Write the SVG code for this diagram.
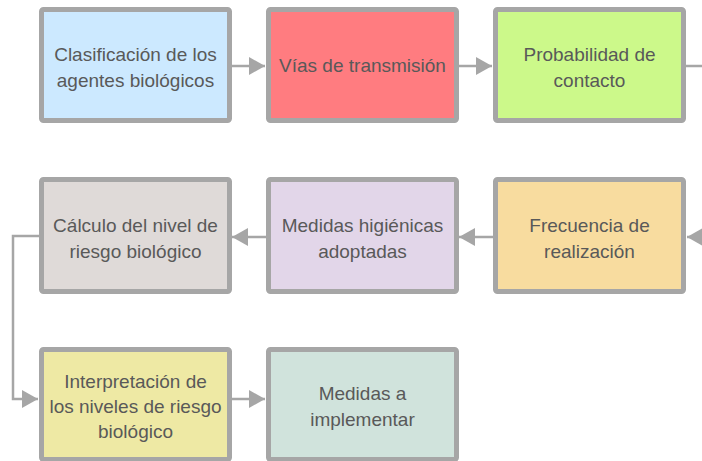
<svg xmlns="http://www.w3.org/2000/svg" width="702" height="461" viewBox="0 0 702 461">
<style>
.box{stroke:#a6a6a6;stroke-width:5;}
.t{font-family:"Liberation Sans",Arial,sans-serif;font-size:19px;fill:#595959;text-anchor:middle;}
.c{fill:none;stroke:#a6a6a6;stroke-width:2.5;}
.ah{fill:#a6a6a6;}
</style>
<defs>
<marker id="arr" markerUnits="userSpaceOnUse" markerWidth="16" markerHeight="18" refX="16" refY="9" orient="auto">
<path d="M0,0 L16,9 L0,18 Z" class="ah"/>
</marker>
</defs>
<rect width="702" height="461" fill="#ffffff"/>
<g id="connectors">
<path class="c" d="M231,66 H265" marker-end="url(#arr)"/>
<path class="c" d="M458,66 H492" marker-end="url(#arr)"/>
<path class="c" d="M686,66 H702"/>
<path class="c" d="M702,237 H687" marker-end="url(#arr)"/>
<path class="c" d="M493,237 H459" marker-end="url(#arr)"/>
<path class="c" d="M266,237 H232" marker-end="url(#arr)"/>
<path class="c" d="M39,236 H13 V399 H38" marker-end="url(#arr)"/>
<path class="c" d="M231,399 H265" marker-end="url(#arr)"/>
</g>
<g id="n1">
<rect class="box" x="41.5" y="9.5" width="188" height="111" rx="2" fill="#cce9ff"/>
<text class="t" x="135.5" y="61">Clasificación de los</text>
<text class="t" x="135.5" y="87">agentes biológicos</text>
</g>
<g id="n2">
<rect class="box" x="268.5" y="9.5" width="188" height="111" rx="2" fill="#ff7c80"/>
<text class="t" x="362.5" y="72">Vías de transmisión</text>
</g>
<g id="n3">
<rect class="box" x="495.5" y="9.5" width="188" height="111" rx="2" fill="#ccf98a"/>
<text class="t" x="589.5" y="61">Probabilidad de</text>
<text class="t" x="589.5" y="87">contacto</text>
</g>
<g id="n4">
<rect class="box" x="41.5" y="179.5" width="188" height="112" rx="2" fill="#dfdad8"/>
<text class="t" x="135.5" y="232">Cálculo del nivel de</text>
<text class="t" x="135.5" y="258">riesgo biológico</text>
</g>
<g id="n5">
<rect class="box" x="268.5" y="179.5" width="188" height="112" rx="2" fill="#e2d6e9"/>
<text class="t" x="362.5" y="232">Medidas higiénicas</text>
<text class="t" x="362.5" y="258">adoptadas</text>
</g>
<g id="n6">
<rect class="box" x="495.5" y="179.5" width="188" height="112" rx="2" fill="#f8dc9f"/>
<text class="t" x="589.5" y="232">Frecuencia de</text>
<text class="t" x="589.5" y="258">realización</text>
</g>
<g id="n7">
<rect class="box" x="41.5" y="349.5" width="188" height="110" rx="2" fill="#eee9a4"/>
<text class="t" x="135.5" y="388">Interpretación de</text>
<text class="t" x="135.5" y="413">los niveles de riesgo</text>
<text class="t" x="135.5" y="438">biológico</text>
</g>
<g id="n8">
<rect class="box" x="268.5" y="349.5" width="188" height="110" rx="2" fill="#d0e3dc"/>
<text class="t" x="362.5" y="400">Medidas a</text>
<text class="t" x="362.5" y="426">implementar</text>
</g>
</svg>
